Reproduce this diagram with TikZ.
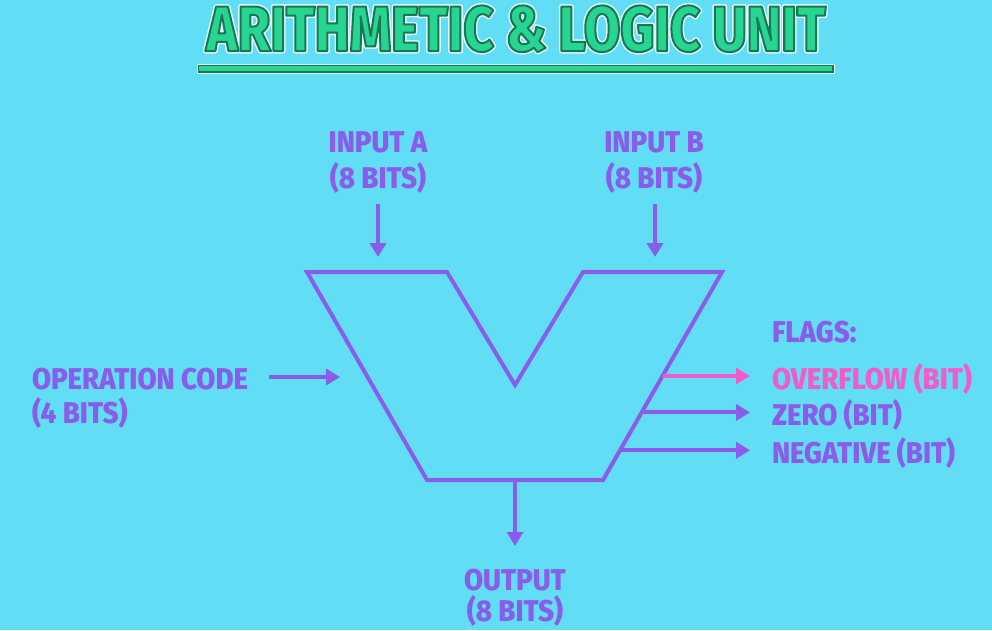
\documentclass[tikz,border=0pt]{standalone}
\usepackage{fontspec}
\usetikzlibrary{arrows.meta,calc}
\newfontfamily\lblfont{Fira Sans ExtraBold}[FakeStretch=0.92]
\newfontfamily\ttlfont{Fira Sans ExtraBold}[FakeStretch=0.825]
\definecolor{bgcyan}{RGB}{98,221,246}
\definecolor{alupurple}{RGB}{138,92,236}
\definecolor{flagpink}{RGB}{240,92,200}
\definecolor{titlegreen}{RGB}{40,212,146}
\definecolor{titledark}{RGB}{22,120,84}
% outlined text: stroke colour and width given as pdf operators
\newcommand\strokedtext[2]{\special{pdf:literal direct 2 Tr 1 j #1}#2\special{pdf:literal direct 0 Tr}}

\begin{document}
\begin{tikzpicture}[x=1pt,y=-1pt,line width=4pt,
  alu/.style={draw=alupurple,line join=miter},
  flow/.style={draw=alupurple,-{Triangle[width=16pt,length=14pt]}},
  lbl/.style={text=alupurple,font=\lblfont\fontsize{30}{32}\selectfont,inner sep=0pt},
  ttl/.style={font=\ttlfont\fontsize{64}{66}\selectfont,inner sep=0pt,anchor=base}]
\fill[bgcyan] (0,0) rectangle (992,630);
\useasboundingbox (0,0) rectangle (992,630);
% title with outline
\node[ttl,text=white!80!bgcyan] (glow) at (516,51) {\strokedtext{5 w 0.87 0.97 0.99 RG}{ARITHMETIC \& LOGIC UNIT}};
\node[ttl,text=titlegreen] (title) at (516,51) {\strokedtext{2 w 0.09 0.47 0.33 RG}{ARITHMETIC \& LOGIC UNIT}};
\draw[white!80!bgcyan,line width=1pt,fill=titledark] (197,64) rectangle (834,73);
\fill[titlegreen] (199,66) rectangle (832,71);
% the ALU outline
\coordinate (tl) at (307,272);
\coordinate (ta) at (447,272);
\coordinate (vv) at (515,385);
\coordinate (tb) at (583,272);
\coordinate (tr) at (722,272);
\coordinate (br) at (603,480);
\coordinate (bl) at (427,480);
\draw[alu] (tl)--(ta)--(vv)--(tb)--(tr)--(br)--(bl)--cycle;
% inputs
\node[lbl,anchor=base] (inA) at (378,152) {INPUT A};
\node[lbl,anchor=base] (inAb) at (378,188) {(8 BITS)};
\node[lbl,anchor=base] (inB) at (654,152) {INPUT B};
\node[lbl,anchor=base] (inBb) at (654,188) {(8 BITS)};
\coordinate (arA) at (378,204);
\coordinate (arB) at (655,204);
\draw[flow] (arA) -- (arA|-0,257);
\draw[flow] (arB) -- (arB|-0,257);
% operation code
\node[lbl,anchor=base west] (opc) at (30,389) {OPERATION CODE};
\node[lbl,anchor=base west] (opcb) at (30,423) {(4 BITS)};
\coordinate (arOp) at (269,377);
\draw[flow] (arOp) -- (340,377);
% output
\coordinate (out) at (515,480);
\draw[flow] (out) -- (515,546);
\node[lbl,anchor=base] (outt) at (515,590) {OUTPUT};
\node[lbl,anchor=base] (outb) at (515,621) {(8 BITS)};
% flags
\node[lbl,anchor=base west] (flags) at (770,342) {FLAGS:};
\node[lbl,anchor=base west,text=flagpink] (ovf) at (770,389) {OVERFLOW (BIT)};
\node[lbl,anchor=base west] (zero) at (770,425) {ZERO (BIT)};
\node[lbl,anchor=base west] (neg) at (770,463) {NEGATIVE (BIT)};
\coordinate (fO) at ($(tr)!.5!(br)$);
\coordinate (fZ) at ($(tr)!.675!(br)$);
\coordinate (fN) at ($(tr)!.857!(br)$);
\draw[flow,draw=flagpink] (fO) -- (750,0|-fO);
\draw[flow] (fZ) -- (750,0|-fZ);
\draw[flow] (fN) -- (750,0|-fN);
\end{tikzpicture}
\end{document}
